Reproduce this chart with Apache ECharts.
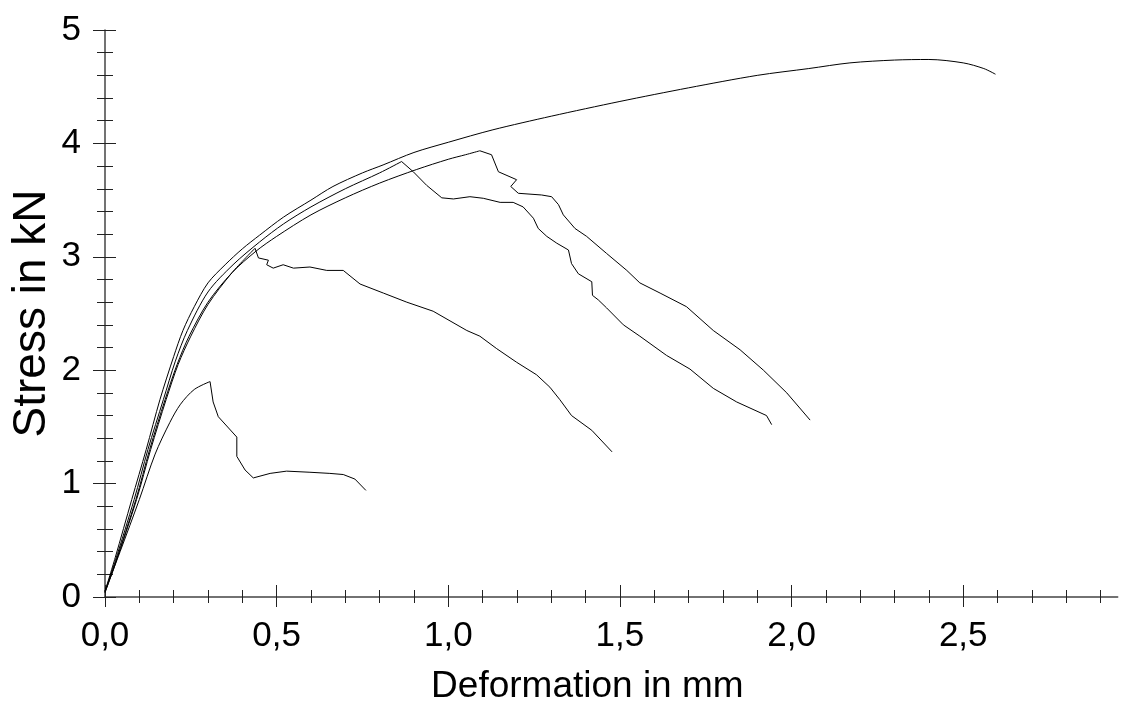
<!DOCTYPE html>
<html>
<head>
<meta charset="utf-8">
<script src="https://cdn.jsdelivr.net/npm/echarts@6/dist/echarts.min.js"></script>
<style>
html,body{margin:0;padding:0;background:#fff;}
#chart{width:1122px;height:704px;}
</style>
</head>
<body>
<div id="chart"></div>
<script>
// ---- data (Deformation in mm, Stress in kN) ----
// loading branch (smooth) and failure branch (jagged) of each specimen
const specimen1Rise = [[0,0.05],[0.03,0.35],[0.078,0.86],[0.12,1.3],[0.16,1.74],[0.2,2.12],[0.227,2.35],[0.26,2.56],[0.3,2.77],[0.35,2.93],[0.4,3.07],[0.45,3.19],[0.52,3.35],[0.6,3.5],[0.664,3.62],[0.75,3.74],[0.81,3.81],[0.9,3.92],[1.0,4.01],[1.13,4.12],[1.3,4.24],[1.5,4.37],[1.7,4.49],[1.9,4.6],[2.05,4.66],[2.17,4.71],[2.3,4.735],[2.4,4.74],[2.5,4.71],[2.56,4.66],[2.594,4.61]];
const specimen2Rise = [[0,0.04],[0.03,0.3],[0.09,0.86],[0.13,1.3],[0.175,1.74],[0.21,2.05],[0.245,2.3],[0.3,2.6],[0.37,2.86],[0.44,3.05],[0.5,3.18],[0.6,3.37],[0.7,3.52],[0.8,3.65],[0.908,3.77],[1.0,3.86],[1.05,3.9],[1.092,3.935]];
const specimen2Fail = [[1.092,3.935],[1.126,3.9],[1.146,3.75],[1.199,3.68],[1.182,3.62],[1.204,3.56],[1.272,3.545],[1.301,3.53],[1.321,3.46],[1.335,3.37],[1.369,3.25],[1.403,3.18],[1.461,3.03],[1.52,2.88],[1.558,2.77],[1.617,2.68],[1.694,2.56],[1.772,2.35],[1.85,2.18],[1.918,2.0],[1.986,1.8],[2.054,1.56]];
const specimen3Rise = [[0,0.05],[0.03,0.32],[0.085,0.86],[0.125,1.3],[0.17,1.74],[0.205,2.08],[0.24,2.35],[0.3,2.69],[0.373,2.93],[0.45,3.13],[0.52,3.29],[0.6,3.44],[0.7,3.6],[0.8,3.74],[0.864,3.84]];
const specimen3Fail = [[0.864,3.84],[0.898,3.75],[0.937,3.63],[0.981,3.52],[1.015,3.51],[1.063,3.53],[1.102,3.516],[1.151,3.48],[1.189,3.48],[1.218,3.44],[1.248,3.34],[1.262,3.25],[1.287,3.18],[1.316,3.12],[1.35,3.06],[1.359,2.94],[1.379,2.85],[1.418,2.78],[1.42,2.66],[1.437,2.62],[1.461,2.55],[1.51,2.4],[1.558,2.3],[1.636,2.13],[1.704,2.01],[1.772,1.84],[1.84,1.72],[1.927,1.6],[1.942,1.52]];
const specimen4Rise = [[0,0.04],[0.03,0.29],[0.092,0.86],[0.133,1.3],[0.178,1.74],[0.213,2.05],[0.25,2.3],[0.3,2.58],[0.37,2.86],[0.437,3.075]];
const specimen4Fail = [[0.437,3.075],[0.447,2.99],[0.476,2.97],[0.471,2.93],[0.49,2.9],[0.519,2.93],[0.549,2.9],[0.597,2.91],[0.646,2.88],[0.694,2.88],[0.743,2.76],[0.811,2.68],[0.879,2.6],[0.956,2.52],[1.054,2.35],[1.092,2.3],[1.141,2.19],[1.199,2.07],[1.257,1.96],[1.296,1.85],[1.325,1.74],[1.359,1.6],[1.418,1.47],[1.477,1.28]];
const specimen5Rise = [[0,0.05],[0.044,0.4],[0.1,0.86],[0.146,1.26],[0.189,1.54],[0.22,1.7],[0.26,1.83],[0.306,1.9]];
const specimen5Fail = [[0.306,1.9],[0.315,1.72],[0.33,1.59],[0.384,1.41],[0.384,1.24],[0.408,1.12],[0.432,1.05],[0.481,1.09],[0.529,1.11],[0.597,1.1],[0.655,1.09],[0.694,1.08],[0.728,1.04],[0.76,0.94]];

const xMajorTicks = [0, 0.5, 1.0, 1.5, 2.0, 2.5];
const xMinorTicks = [0.1,0.2,0.3,0.4,0.6,0.7,0.8,0.9,1.1,1.2,1.3,1.4,1.6,1.7,1.8,1.9,2.1,2.2,2.3,2.4,2.6,2.7,2.8,2.9];
const yMajorTicks = [0, 1, 2, 3, 4, 5];
const xName = 'Deformation in mm';
const yName = 'Stress in kN';

// ---- chart ----
const FONT = 'Liberation Sans, Arial, sans-serif';
const axisColor = '#444';
const tickColor = '#222';
const X_MIN = 0, X_MAX = 2.95, Y_MIN = 0, Y_MAX = 5;

function xAxisDef(opts) {
  return Object.assign({
    type: 'value', position: 'bottom', min: X_MIN, max: X_MAX, offset: 0,
    axisLine: { show: false }, splitLine: { show: false },
    axisLabel: { show: false }
  }, opts);
}
function yAxisDef(opts) {
  return Object.assign({
    type: 'value', position: 'left', min: Y_MIN, max: Y_MAX, interval: 1, offset: 0,
    axisLine: { show: false }, splitLine: { show: false },
    axisLabel: { show: false }
  }, opts);
}

const chart = echarts.init(document.getElementById('chart'), null, { renderer: 'canvas' });
const branches = [
  [specimen1Rise, 0.3], [specimen2Rise, 0.3], [specimen2Fail, false],
  [specimen3Rise, 0.3], [specimen3Fail, false], [specimen4Rise, 0.3], [specimen4Fail, false],
  [specimen5Rise, 0.3], [specimen5Fail, false]
];
const lineSeries = branches.map(function (b, i) {
  return {
    type: 'line', name: 'branch' + i, data: b[0],
    xAxisIndex: 0, yAxisIndex: 0,
    showSymbol: false, smooth: b[1], silent: true,
    lineStyle: { color: '#000', width: 1 },
    animation: false
  };
});

chart.setOption({
  animation: false,
  backgroundColor: '#fff',
  grid: { left: 105, top: 30, width: 1012.7, height: 567, containLabel: false, outerBoundsMode: 'none' },
  xAxis: [
    xAxisDef({
      axisLine: { show: true, lineStyle: { color: axisColor, width: 1.5 } },
      axisTick: { show: true, inside: false, length: 10, customValues: xMajorTicks, lineStyle: { color: tickColor, width: 1 } },
      axisLabel: {
        show: true, customValues: xMajorTicks, margin: 22,
        fontFamily: FONT, fontSize: 35, color: '#000',
        formatter: function (v) { return v.toFixed(1).replace('.', ','); }
      },
      name: xName, nameLocation: 'middle', nameGap: 71, nameMoveOverlap: false,
      nameTextStyle: { fontFamily: FONT, fontSize: 37, color: '#000', padding: [0, 48, 0, 0] }
    }),
    xAxisDef({ axisTick: { show: true, inside: true, length: 12, customValues: xMajorTicks, lineStyle: { color: tickColor, width: 1 } } }),
    xAxisDef({ axisTick: { show: true, inside: false, length: 6, customValues: xMinorTicks, lineStyle: { color: tickColor, width: 1 } } }),
    xAxisDef({ axisTick: { show: true, inside: true, length: 7, customValues: xMinorTicks, lineStyle: { color: tickColor, width: 1 } } })
  ],
  yAxis: [
    yAxisDef({
      axisLine: { show: true, lineStyle: { color: axisColor, width: 1.5 } },
      axisTick: { show: true, inside: false, length: 12, lineStyle: { color: tickColor, width: 1 } },
      minorTick: { show: true, splitNumber: 5, length: 8, lineStyle: { color: tickColor, width: 1 } },
      axisLabel: {
        show: true, margin: 24, fontFamily: FONT, fontSize: 35, color: '#000',
        customValues: yMajorTicks,
        formatter: function (v) { return String(v); }
      },
      name: yName, nameLocation: 'middle', nameGap: 50, nameMoveOverlap: false,
      nameTextStyle: { fontFamily: FONT, fontSize: 46, color: '#000' }
    }),
    yAxisDef({
      axisTick: { show: true, inside: true, length: 11, lineStyle: { color: tickColor, width: 1 } },
      minorTick: { show: true, splitNumber: 5, length: 8, lineStyle: { color: tickColor, width: 1 } }
    })
  ],
  series: lineSeries
});
</script>
</body>
</html>
